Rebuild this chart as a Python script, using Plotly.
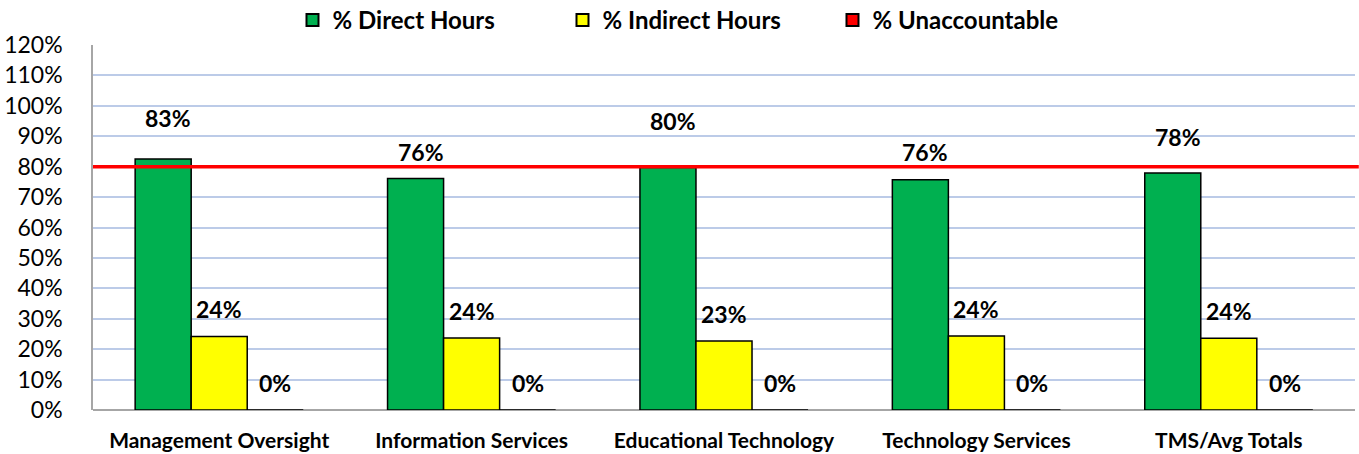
import plotly.graph_objects as go

categories = ["Management Oversight", "Information Services", "Educational Technology",
              "Technology Services", "TMS/Avg Totals"]
direct = [82.5, 76.1, 79.7, 75.7, 77.9]
indirect = [24.2, 23.7, 22.7, 24.3, 23.6]
unaccountable = [0, 0, 0, 0, 0]
direct_labels = ["83%", "76%", "80%", "76%", "78%"]
indirect_labels = ["24%", "24%", "23%", "24%", "24%"]
unacc_labels = ["0%", "0%", "0%", "0%", "0%"]
target = 80
y_ticks = list(range(0, 121, 10))

FONT = "Lato"
bar_w = 0.222
offsets = [-bar_w, 0, bar_w]
xs = list(range(len(categories)))

fig = go.Figure()
series = [
    ("% Direct Hours", direct, "#00b050"),
    ("% Indirect Hours", indirect, "#ffff00"),
    ("% Unaccountable", unaccountable, "#ff0000"),
]
for (name, vals, col), off in zip(series, offsets):
    fig.add_trace(go.Bar(
        x=[x + off for x in xs], y=vals, name=name, width=bar_w,
        marker=dict(color=col, line=dict(color="#000000", width=1.5)),
    ))

# target line
fig.add_shape(type="line", xref="paper", x0=0, x1=1.003, yref="y", y0=target, y1=target,
              line=dict(color="#ff0000", width=3.5), layer="above")

direct_label_lift = [41, 27, 47, 28, 36]
label_font = dict(family=FONT, size=23, color="#000000")
for i, x in enumerate(xs):
    fig.add_annotation(x=x + offsets[0], y=direct[i], text="<b>%s</b>" % direct_labels[i],
                       showarrow=False, yshift=direct_label_lift[i], xshift=5, font=label_font)
    fig.add_annotation(x=x + offsets[1], y=indirect[i], text="<b>%s</b>" % indirect_labels[i],
                       showarrow=False, yshift=27, font=label_font)
    fig.add_annotation(x=x + offsets[2], y=unaccountable[i], text="<b>%s</b>" % unacc_labels[i],
                       showarrow=False, yshift=27, font=label_font)

fig.update_layout(
    width=1359, height=454,
    margin=dict(l=93, r=4, t=45, b=44, autoexpand=False),
    plot_bgcolor="white", paper_bgcolor="white",
    font=dict(family=FONT, color="#000000"),
    showlegend=True,
    legend=dict(orientation="h", x=0.479, xanchor="center", y=0.955, yanchor="middle",
                yref="container",
                font=dict(family=FONT, size=24, color="#000000", weight="bold"),
                itemwidth=30, traceorder="normal", itemsizing="constant",
                entrywidthmode="pixels", entrywidth=225),
    bargap=0.33,
)
fig.update_xaxes(
    tickvals=xs, ticktext=["<b>%s</b>" % c for c in categories],
    range=[-0.5, len(categories) - 0.5],
    tickfont=dict(family=FONT, size=21, color="#000000"),
    showgrid=False, showline=False, ticks="", zeroline=False,
    ticklabelstandoff=16, automargin=False,
)
fig.update_yaxes(
    range=[0, 120], tickvals=y_ticks, ticktext=["%d%%" % v for v in y_ticks],
    tickfont=dict(family=FONT, size=23, color="#000000"),
    showgrid=True, gridcolor="#bccbe8", gridwidth=1.5,
    showline=True, linecolor="#a6a6a6", linewidth=1.5,
    zeroline=True, zerolinecolor="#a6a6a6", zerolinewidth=2,
    ticks="", ticklabelstandoff=24, automargin=False,
)
fig.write_html("out.html", config={"displayModeBar": False})

# remove the default page margin so the figure sits at the window's top-left corner
with open("out.html", "r", encoding="utf-8") as f:
    html = f.read()
html = html.replace("<body>", '<body style="margin:0;padding:0;">', 1)
with open("out.html", "w", encoding="utf-8") as f:
    f.write(html)
